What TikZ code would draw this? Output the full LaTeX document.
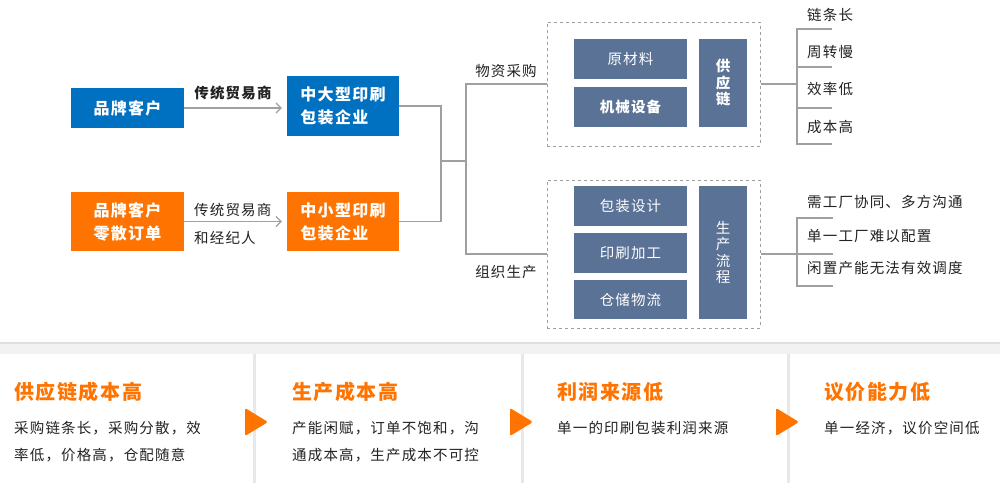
\documentclass[tikz,border=0pt]{standalone}
\usepackage{fontspec}
\setmainfont{Noto Sans CJK SC}[LetterSpace=8]
\usetikzlibrary{arrows.meta}
\definecolor{cblue}{RGB}{0,112,192}
\definecolor{corange}{RGB}{255,115,0}
\definecolor{cslate}{RGB}{90,114,150}
\definecolor{cline}{RGB}{160,160,160}
\definecolor{ctext}{RGB}{34,34,34}
\begin{document}
\begin{tikzpicture}[x=1pt,y=-1pt,
  box/.style={inner sep=0, text=white, font=\bfseries\fontsize{16}{23}\selectfont, align=left},
  bluebox/.style={box, fill=cblue},
  orangebox/.style={box, fill=corange},
  slatebox/.style={inner sep=0, fill=cslate, text=white, font=\fontsize{14.5}{16.5}\selectfont, align=center, minimum width=113, minimum height=40},
  slatebold/.style={slatebox, font=\bfseries\fontsize{14.5}{16.5}\selectfont},
  dbox/.style={draw=gray!75, dashed, line width=1, inner sep=0},
  lbl/.style={inner sep=0, text=ctext, font=\fontsize{14.5}{17}\selectfont},
  lblb/.style={lbl, font=\bfseries\fontsize{14.5}{17}\selectfont},
  arr/.style={draw=cline, line width=1.2, -{Straight Barb[length=5pt,width=10pt]}, shorten >=5pt},
  conn/.style={draw=cline, line width=1.5},
  ptitle/.style={inner sep=0, text=corange, font=\bfseries\fontsize{20}{24}\selectfont, anchor=west},
  pbody/.style={inner sep=0, text=ctext, font=\fontsize{14.5}{27}\selectfont, anchor=west, align=left}
]
\useasboundingbox (0,0) rectangle (1000,483);
\fill[white] (0,0) rectangle (1000,483);
% bottom band and panel separators
\fill[gray!10] (0,342) rectangle (1000,354);
\draw[gray!25, line width=1.5] (0,342.75) -- (1000,342.75);
\foreach \x in {254.5,522.5,788.5} \draw[gray!18, line width=3] (\x,354) -- (\x,483);

% left boxes
\node[bluebox, minimum width=113, minimum height=40] (brand1) at (127.5,108) {品牌客户};
\node[bluebox, minimum width=112, minimum height=60] (big) at (343,106) {中大型印刷\\包装企业};
\node[orangebox, minimum width=113, minimum height=59] (brand2) at (127.5,221.5) {品牌客户\\零散订单};
\node[orangebox, minimum width=112, minimum height=59] (small) at (343,221.5) {中小型印刷\\包装企业};

\draw[arr] (brand1.east) -- (brand1.east -| big.west);
\draw[arr] (brand2.east) -- (brand2.east -| small.west);
\node[lblb] (lab1) at (233,93) {传统贸易商};
\node[lbl, anchor=west] (lab2) at (194,210) {传统贸易商};
\node[lbl, anchor=west] (lab3) at (194,238) {和经纪人};

% junctions
\coordinate (j1) at (441,161);
\coordinate (j2) at (466,161);
\draw[conn] (big.east) -| (j1);
\draw[conn] (small.east) -| (j1);
\draw[conn] (j1) -- (j2);

% dashed groups
\node[dbox, minimum width=213, minimum height=124] (sup) at (653.5,84) {};
\node[dbox, minimum width=213, minimum height=148] (prod) at (653.5,254) {};
\draw[conn] (sup.west) -| (j2) |- (prod.west);
\node[lbl] (lwz) at (506,71) {物资采购};
\node[lbl] (lzz) at (506,272) {组织生产};

\node[slatebox] (raw) at (630.5,59) {原材料};
\node[slatebold] (mach) at (630.5,107) {机械设备};
\node[slatebold, minimum width=48, minimum height=88] (chain) at (723,83) {供\\应\\链};
\node[slatebox] (design) at (630.5,206) {包装设计};
\node[slatebox] (print) at (630.5,253) {印刷加工};
\node[slatebox, minimum height=39] (store) at (630.5,299.5) {仓储物流};
\node[slatebox, minimum width=48, minimum height=133] (flow) at (723,252.5) {生\\产\\流\\程};

% right brackets
\coordinate (v1) at (797,86);
\coordinate (a1) at (797,29); \coordinate (a2) at (797,67);
\coordinate (a3) at (797,108); \coordinate (a4) at (797,144);
\draw[conn] (sup.east) -- (sup.east -| v1);
\draw[conn] ([xshift=35]a1) -- (a1) -- (a4) -- ([xshift=35]a4);
\draw[conn] (a2) -- ([xshift=35]a2);
\draw[conn] (a3) -- ([xshift=35]a3);
\node[lbl, anchor=west] (r1) at (807,15) {链条长};
\node[lbl, anchor=west] (r2) at (807,52) {周转慢};
\node[lbl, anchor=west] (r3) at (807,89) {效率低};
\node[lbl, anchor=west] (r4) at (807,127) {成本高};

\coordinate (b1) at (797,218); \coordinate (b3) at (797,286);
\coordinate (b2) at (797,254);
\draw[conn] (prod.east) -- (b2);
\draw[conn] ([xshift=36]b1) -- (b1) -- (b3) -- ([xshift=36]b3);
\draw[conn] (b2) -- ([xshift=36]b2);
\node[lbl, anchor=west] (s1) at (807,202) {需工厂协同、多方沟通};
\node[lbl, anchor=west] (s2) at (807,236) {单一工厂难以配置};
\node[lbl, anchor=west] (s3) at (807,268) {闲置产能无法有效调度};

% bottom panels
\node[ptitle] (pt1) at (14,392) {供应链成本高};
\node[ptitle] (pt2) at (292,392) {生产成本高};
\node[ptitle] (pt3) at (557,392) {利润来源低};
\node[ptitle] (pt4) at (824,392) {议价能力低};
\node[pbody] (pb1) at (14,441.5) {采购链条长，采购分散，效\\率低，价格高，仓配随意};
\node[pbody] (pb2) at (292,441.5) {产能闲赋，订单不饱和，沟\\通成本高，生产成本不可控};
\node[pbody] (pb3) at (557,428) {单一的印刷包装利润来源};
\node[pbody] (pb4) at (824,428) {单一经济，议价空间低};

\foreach \x in {245,510,776}
  \fill[corange, rounded corners=1.5] (\x,408) -- (\x+23,422) -- (\x,436) -- cycle;
\end{tikzpicture}
\end{document}
